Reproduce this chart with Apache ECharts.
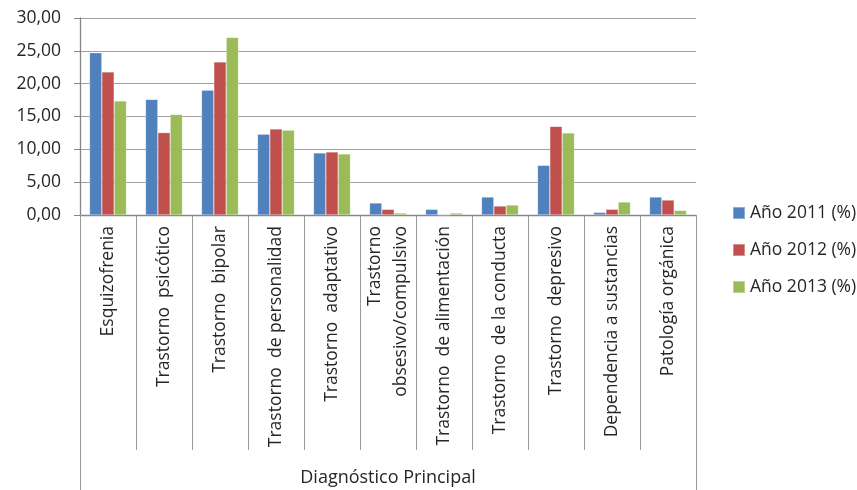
<!DOCTYPE html>
<html>
<head>
<meta charset="utf-8">
<script src="https://cdn.jsdelivr.net/npm/echarts@6/dist/echarts.min.js"></script>
<style>html,body{margin:0;padding:0;background:#fff}#c{width:857px;height:490px}</style>
</head>
<body>
<div id="c"></div>
<script>
var categories = ['Esquizofrenia','Trastorno  psicótico','Trastorno  bipolar','Trastorno  de personalidad','Trastorno  adaptativo','Trastorno\nobsesivo/compulsivo','Trastorno  de alimentación','Trastorno  de la conducta','Trastorno  depresivo','Dependencia a sustancias','Patología orgánica'];
var s2011 = [24.7, 17.6, 19.0, 12.3, 9.45, 1.83, 0.86, 2.74, 7.56, 0.40, 2.74];
var s2012 = [21.8, 12.55, 23.3, 13.1, 9.6, 0.86, 0, 1.37, 13.5, 0.87, 2.28];
var s2013 = [17.35, 15.3, 27.05, 12.9, 9.3, 0.30, 0.30, 1.52, 12.48, 1.98, 0.70];
var seriesNames = ['Año 2011 (%)','Año 2012 (%)','Año 2013 (%)'];
var colors = ['#4F81BD','#C0504D','#9BBB59'];

var chart = echarts.init(document.getElementById('c'));
var font = '"Open Sans", sans-serif';
function mk(name, data, color){
  return {name:name, type:'bar', data:data, barGap:'0%', barCategoryGap:'34%',
    itemStyle:{color:color, borderColor:'rgba(255,255,255,0.35)', borderWidth:0.6}};
}
chart.setOption({
  animation:false,
  textStyle:{fontFamily:font},
  grid:{left:80, right:161, top:18, bottom:275, containLabel:false, outerBoundsMode:'none'},
  legend:{orient:'vertical', left:727, top:199, itemWidth:12, itemHeight:12, itemGap:19,
    icon:'rect', textStyle:{fontSize:17.5, color:'#262626', fontFamily:font}, data:seriesNames},
  xAxis:[{
    type:'category', data:categories, position:'bottom',
    axisLine:{lineStyle:{color:'#868686', width:1.3}},
    axisTick:{show:true, alignWithLabel:false, length:235, lineStyle:{color:'#9a9a9a', width:1}},
    axisLabel:{rotate:90, interval:0, margin:11, fontSize:17.5, color:'#262626', fontFamily:font, lineHeight:26}
  },{
    type:'category', data:[''], position:'bottom',
    axisLine:{show:false},
    axisTick:{show:true, length:275, lineStyle:{color:'#9a9a9a', width:1}},
    axisLabel:{show:false},
    name:'Diagnóstico Principal', nameLocation:'middle', nameGap:254,
    nameTextStyle:{fontSize:18, color:'#262626', fontFamily:font}
  }],
  yAxis:{
    type:'value', min:0, max:30, interval:5,
    axisLine:{show:true, lineStyle:{color:'#868686', width:1.3}},
    axisTick:{show:true, length:6, lineStyle:{color:'#868686'}},
    splitLine:{lineStyle:{color:'#a0a0a0', width:1.2}},
    axisLabel:{margin:19, fontSize:17.5, color:'#262626', fontFamily:font,
      formatter:function(v){return v.toFixed(2).replace('.', ',');}}
  },
  series:[mk(seriesNames[0], s2011, colors[0]), mk(seriesNames[1], s2012, colors[1]), mk(seriesNames[2], s2013, colors[2])]
});
</script>
</body>
</html>
